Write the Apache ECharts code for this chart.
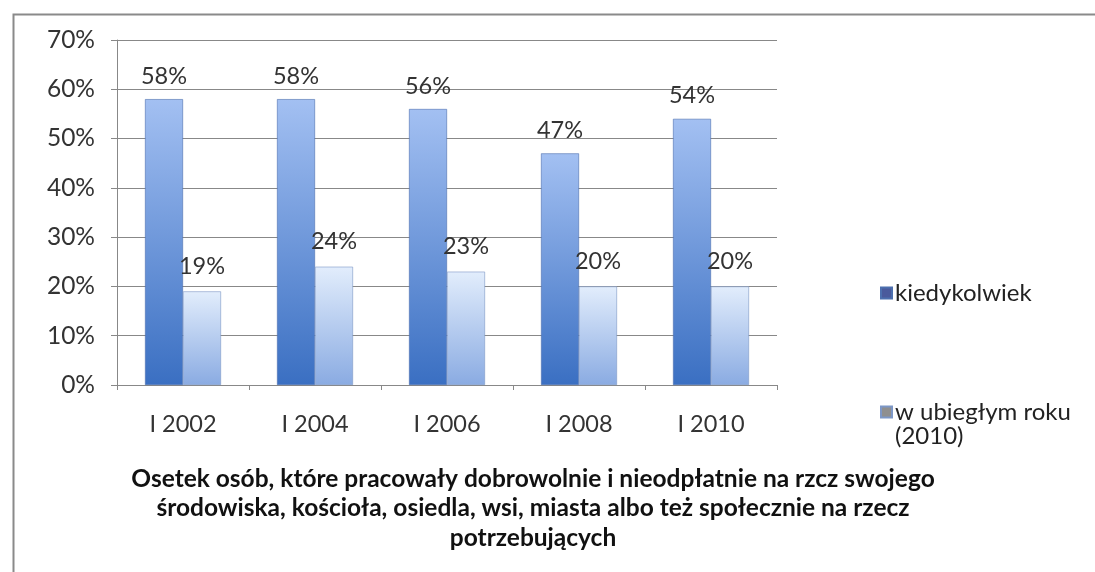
<!DOCTYPE html>
<html><head><meta charset="utf-8">
<script src="https://cdn.jsdelivr.net/npm/echarts@6/dist/echarts.min.js"></script>
<style>html,body{margin:0;padding:0;background:#fff}#c{width:1095px;height:572px}</style>
</head><body><div id="c"></div>
<script>
const categories = ['I 2002', 'I 2004', 'I 2006', 'I 2008', 'I 2010'];
const seriesNames = ['kiedykolwiek', 'w ubiegłym roku (2010)'];
const legendLines = ['w ubiegłym roku', '(2010)'];
const kiedykolwiek = [58, 58, 56, 47, 54];
const ubieglyRok = [19, 24, 23, 20, 20];
const yTicks = { min: 0, max: 70, interval: 10 };
const titleLines = [
  'Osetek osób, które pracowały dobrowolnie i nieodpłatnie na rzcz swojego',
  'środowiska, kościoła, osiedla, wsi, miasta albo też społecznie na rzecz',
  'potrzebujących'
];

const FONT = 'Lato';
const chart = echarts.init(document.getElementById('c'));
const grad = (top, bottom) => new echarts.graphic.LinearGradient(0, 0, 0, 1, [
  { offset: 0, color: top }, { offset: 1, color: bottom }
]);
chart.setOption({
  animation: false,
  backgroundColor: '#ffffff',
  textStyle: { fontFamily: FONT },
  graphic: [{
    type: 'rect', left: 11, top: 12, silent: true,
    shape: { width: 1200, height: 700 },
    style: { fill: 'none', stroke: '#8a8a8a', lineWidth: 2 }
  }, {
    type: 'text', left: 895, top: 424, silent: true,
    style: { text: legendLines[1], font: '24px Lato', fill: '#222' }
  }],
  title: {
    text: titleLines.join('\n'),
    left: 528, top: 459, textAlign: 'center',
    textStyle: { fontFamily: FONT, fontWeight: 'bold', fontSize: 24.5, lineHeight: 29.5, color: '#111' }
  },
  legend: [{
    data: [seriesNames[0]],
    left: 875, top: 276, orient: 'vertical',
    itemWidth: 11, itemHeight: 11, icon: 'rect',
    itemStyle: { color: '#4a5a9c' },
    textStyle: { fontFamily: FONT, fontSize: 24, color: '#222', padding: [0, 0, 0, -2] }
  }, {
    data: [seriesNames[1]],
    left: 875, top: 395, orient: 'vertical',
    itemWidth: 11, itemHeight: 11, icon: 'rect',
    itemStyle: { color: '#8f8f8f' },
    formatter: () => legendLines[0],
    textStyle: { fontFamily: FONT, fontSize: 24, color: '#222', padding: [0, 0, 0, -2] }
  }],
  grid: { left: 117, right: 318, top: 40, bottom: 187, containLabel: false },
  xAxis: {
    type: 'category', data: categories, boundaryGap: true,
    axisLine: { lineStyle: { color: '#888', width: 1 } },
    axisTick: { show: true, length: 5, lineStyle: { color: '#888' } },
    axisLabel: { fontFamily: FONT, fontSize: 23.5, color: '#333', margin: 27 }
  },
  yAxis: {
    type: 'value', min: yTicks.min, max: yTicks.max, interval: yTicks.interval,
    axisLine: { show: true, lineStyle: { color: '#888', width: 1 } },
    axisTick: { show: true, length: 6, lineStyle: { color: '#888' } },
    splitLine: { show: true, lineStyle: { color: '#888', width: 1 } },
    axisLabel: { fontFamily: FONT, fontSize: 24.5, color: '#333', margin: 22, formatter: '{value}%' }
  },
  series: [{
    name: seriesNames[0], type: 'bar', data: kiedykolwiek,
    barWidth: 38, barGap: '0%',
    itemStyle: { color: grad('#a3c0f2', '#3a6fc2'), borderColor: '#4c6fae', borderWidth: 0.6 },
    label: { show: true, position: 'top', distance: 11, formatter: '{c}%', fontFamily: FONT, fontSize: 23.5, color: '#333' }
  }, {
    name: seriesNames[1], type: 'bar', data: ubieglyRok,
    barWidth: 38, barGap: '0%',
    itemStyle: { color: grad('#e2edfc', '#8aabe2'), borderColor: '#7d97c6', borderWidth: 0.6 },
    label: { show: true, position: 'top', distance: 13, formatter: '{c}%', fontFamily: FONT, fontSize: 23.5, color: '#333' }
  }]
});
</script></body></html>
